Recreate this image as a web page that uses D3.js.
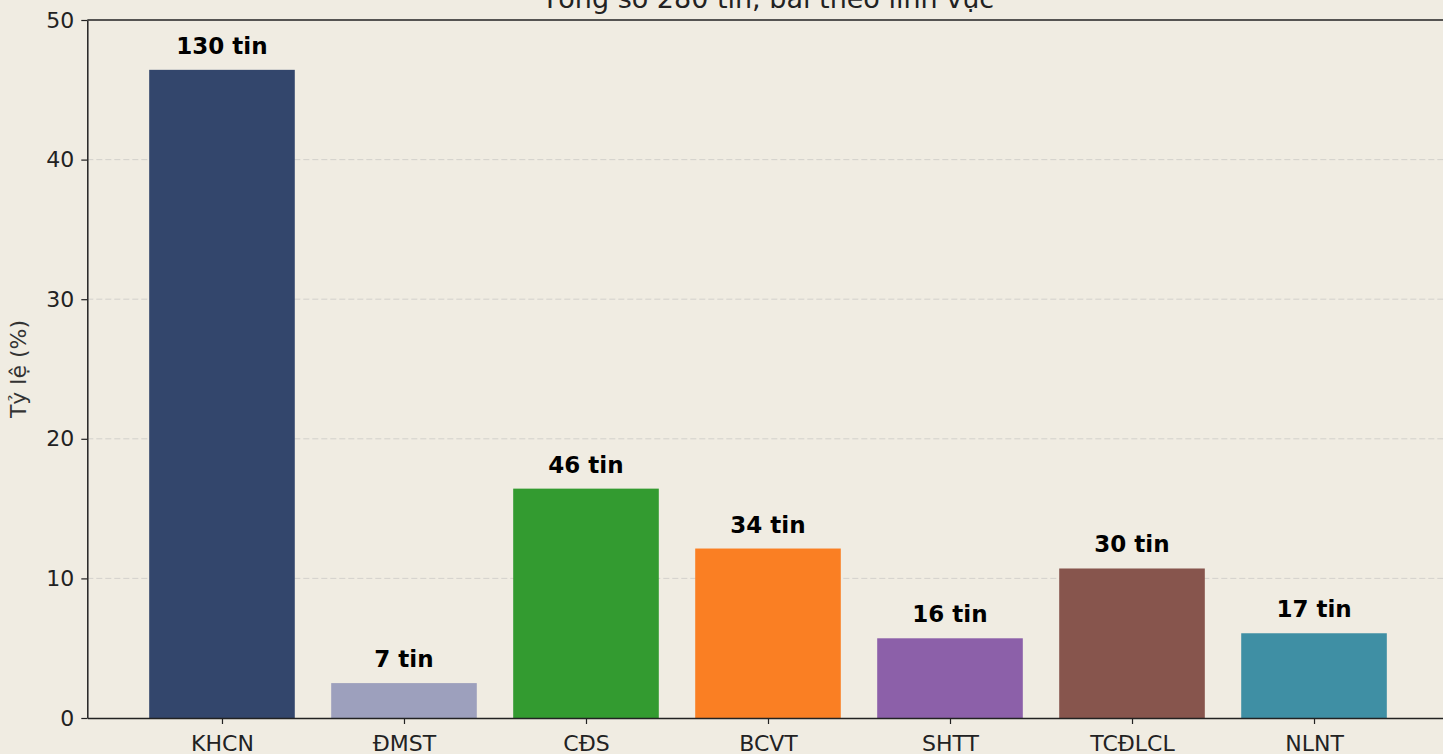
<!DOCTYPE html>
<html>
<head>
<meta charset="utf-8">
<script src="https://cdn.jsdelivr.net/npm/d3@7"></script>
<style>
  html, body { margin: 0; padding: 0; background: #f0ece2; }
  svg { display: block; font-family: "DejaVu Sans", sans-serif; }
</style>
</head>
<body>
<svg id="chart" width="1443" height="754"></svg>
<script>
const categories = ["KHCN", "ĐMST", "CĐS", "BCVT", "SHTT", "TCĐLCL", "NLNT"];
const counts = [130, 7, 46, 34, 16, 30, 17];
const percents = [46.43, 2.5, 16.43, 12.14, 5.71, 10.71, 6.07];
const colors = ["#33466c", "#9da0bd", "#339b30", "#fa7f23", "#8c60a9", "#87554d", "#3f8fa4"];
const yTicks = [0, 10, 20, 30, 40, 50];
const title = "Tổng số 280 tin, bài theo lĩnh vực";
const yLabel = "Tỷ lệ (%)";

const data = categories.map((c, i) => ({ cat: c, count: counts[i], pct: percents[i], color: colors[i] }));

function drawChart() {
    const svg = d3.select("#chart");
    svg.selectAll("*").remove();

    const left = 87.3, right = 1448.7, top = 20, bottom = 718;

    // matplotlib-like x range: -0.74 .. 6.74
    const xScale = d3.scaleLinear()
        .domain([-0.74, categories.length - 1 + 0.74])
        .range([left, right]);
    const step = xScale(1) - xScale(0);
    const barW = step * 0.8;

    const yScale = d3.scaleLinear()
        .domain([0, 50])
        .range([bottom, top]);

    // grid
    svg.append("g")
        .selectAll("line")
        .data(yTicks.filter(t => t > 0 && t < 50))
        .enter()
        .append("line")
        .attr("x1", left)
        .attr("x2", right)
        .attr("y1", d => yScale(d))
        .attr("y2", d => yScale(d))
        .attr("stroke", "#b8b8b8")
        .attr("stroke-opacity", 0.5)
        .attr("stroke-width", 1)
        .attr("stroke-dasharray", "6,3");

    // bars
    svg.selectAll("rect.bar")
        .data(data)
        .enter()
        .append("rect")
        .attr("class", "bar")
        .attr("x", (d, i) => xScale(i) - barW / 2)
        .attr("y", d => yScale(d.pct))
        .attr("width", barW)
        .attr("height", d => yScale(0) - yScale(d.pct))
        .attr("fill", d => d.color);

    // value labels
    svg.selectAll("text.val")
        .data(data)
        .enter()
        .append("text")
        .attr("class", "val")
        .attr("x", (d, i) => xScale(i))
        .attr("y", d => yScale(d.pct) - 16)
        .attr("text-anchor", "middle")
        .attr("font-size", "23px")
        .attr("font-weight", "bold")
        .attr("fill", "#000")
        .text(d => d.count + " tin");

    // axes
    const xAxis = svg.append("g")
        .attr("transform", `translate(0,${bottom})`)
        .call(d3.axisBottom(xScale)
            .tickValues(d3.range(categories.length))
            .tickFormat(i => categories[i])
            .tickSize(6)
            .tickPadding(11)
            .tickSizeOuter(0));
    xAxis.select(".domain").attr("stroke", "#222").attr("stroke-width", 1.5);
    xAxis.selectAll(".tick line").attr("stroke", "#222").attr("stroke-width", 1.2);
    xAxis.selectAll(".tick text")
        .attr("font-size", "22px")
        .attr("font-family", "DejaVu Sans")
        .attr("fill", "#222");

    const yAxis = svg.append("g")
        .attr("transform", `translate(${left},0)`)
        .call(d3.axisLeft(yScale)
            .tickValues(yTicks)
            .tickSize(6)
            .tickPadding(7)
            .tickSizeOuter(0));
    yAxis.select(".domain").attr("stroke", "#222").attr("stroke-width", 1.5);
    yAxis.selectAll(".tick line").attr("stroke", "#222").attr("stroke-width", 1.2);
    yAxis.selectAll(".tick text")
        .attr("font-size", "22px")
        .attr("font-family", "DejaVu Sans")
        .attr("fill", "#222");

    // top spine
    svg.append("line")
        .attr("x1", left)
        .attr("x2", right)
        .attr("y1", top)
        .attr("y2", top)
        .attr("stroke", "#222")
        .attr("stroke-width", 1.5);

    // title (cut off at top, as in the source image)
    svg.append("text")
        .attr("x", (left + right) / 2)
        .attr("y", 8)
        .attr("text-anchor", "middle")
        .attr("font-size", "27px")
        .attr("fill", "#222")
        .text(title);

    // y label
    svg.append("text")
        .attr("transform", `translate(26,${(top + bottom) / 2}) rotate(-90)`)
        .attr("text-anchor", "middle")
        .attr("font-size", "22px")
        .attr("fill", "#333")
        .text(yLabel);
}

drawChart();
</script>
</body>
</html>
